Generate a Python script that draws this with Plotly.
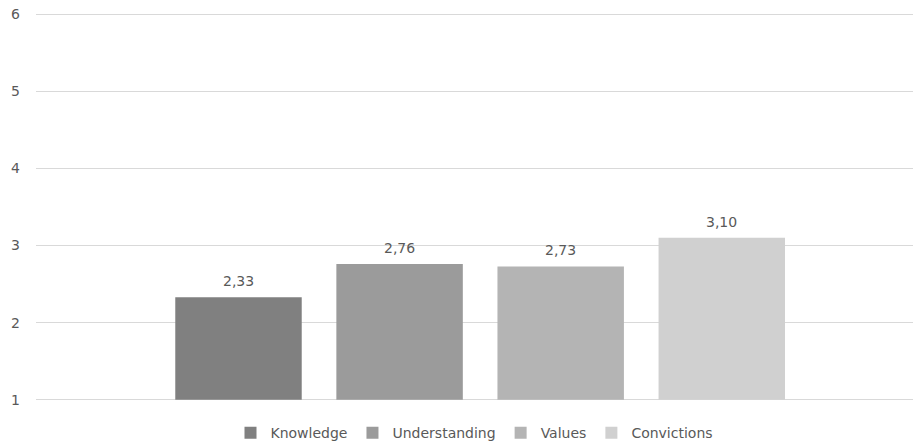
import plotly.graph_objects as go

categories = ["Knowledge", "Understanding", "Values", "Convictions"]
values = [2.33, 2.76, 2.73, 3.10]
colors = ["#808080", "#9b9b9b", "#b4b4b4", "#d0d0d0"]
y_ticks = [1, 2, 3, 4, 5, 6]
y_base = 1

font_family = "DejaVu Sans, Verdana, sans-serif"
text_color = "#595959"

fig = go.Figure()
for i, (name, v, c) in enumerate(zip(categories, values, colors)):
    fig.add_trace(go.Bar(
        x=[i], y=[v - y_base], base=y_base, name=name,
        marker=dict(color=c, line=dict(width=0)),
        width=0.785, hoverinfo="skip",
    ))
    fig.add_annotation(
        x=i, y=v, text=f"{v:.2f}".replace(".", ","),
        showarrow=False, yanchor="bottom", yshift=6,
        font=dict(family=font_family, size=14, color=text_color),
    )

fig.update_layout(
    width=914, height=441,
    margin=dict(l=36, r=1, t=13, b=40, autoexpand=False),
    plot_bgcolor="white", paper_bgcolor="white",
    barmode="overlay",
    font=dict(family=font_family, size=14, color=text_color),
    showlegend=True,
    legend=dict(orientation="h", x=0.5, xanchor="center", y=-0.083, yanchor="middle",
                font=dict(family=font_family, size=14, color=text_color),
                itemwidth=30, traceorder="normal"),
    xaxis=dict(range=[-1.257, 4.187], showticklabels=False, showgrid=False,
               zeroline=False, showline=False, ticks=""),
    yaxis=dict(range=[0.985, 6.015], tickvals=y_ticks, showgrid=True, gridcolor="#d9d9d9",
               gridwidth=1, zeroline=False, showline=False, ticks="",
               ticklabelstandoff=15,
               tickfont=dict(family=font_family, size=14, color=text_color)),
)

fig.write_html("out.html")
